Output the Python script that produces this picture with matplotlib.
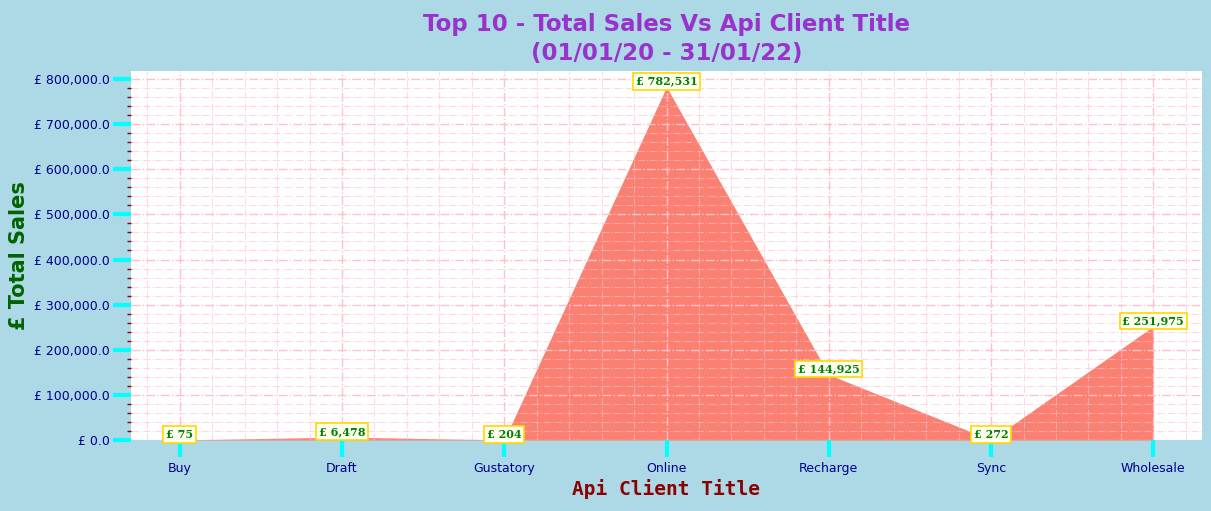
import matplotlib
matplotlib.use("Agg")
import matplotlib.pyplot as plt
from matplotlib.ticker import FuncFormatter, MultipleLocator

categories = ["Buy", "Draft", "Gustatory", "Online", "Recharge", "Sync", "Wholesale"]
sales = [75, 6478, 204, 782531, 144925, 272, 251975]

fig = plt.figure(figsize=(12.11, 5.11), dpi=100, facecolor="#add8e6")
ax = fig.add_axes([131/1211, 1-440/511, (1202-131)/1211, (440-71)/511])
ax.set_facecolor("white")

x = list(range(len(categories)))
ax.fill_between(x, sales, color="#fa8072", linewidth=0)

ax.set_xlim(-0.3, len(categories) - 0.7)
ax.set_ylim(0, max(sales) * 1.045)

ax.set_xticks(x)
ax.set_xticklabels(categories)
ax.xaxis.set_minor_locator(MultipleLocator(0.2))
ax.yaxis.set_major_locator(MultipleLocator(100000))
ax.yaxis.set_minor_locator(MultipleLocator(20000))
ax.yaxis.set_major_formatter(FuncFormatter(lambda v, p: f"£ {v:,.1f}"))

ax.tick_params(axis="both", which="major", color="cyan", width=3,
               labelcolor="#00008b", labelsize=9)
ax.tick_params(axis="x", which="major", length=12, pad=4)
ax.tick_params(axis="y", which="major", length=13, pad=2)
ax.tick_params(axis="x", which="minor", length=0)
ax.tick_params(axis="y", which="minor", color="#8b0000", length=3, width=1)

ax.grid(True, which="major", color="pink", linestyle="-.", linewidth=1)
ax.grid(True, which="minor", color="pink", linestyle="-.", linewidth=0.8, alpha=0.6)
ax.set_axisbelow(False)

for s in ax.spines.values():
    s.set_visible(False)

for xi, v in zip(x, sales):
    ax.annotate(f"£ {v:,}", (xi, v), xytext=(0, 0), textcoords="offset points",
                ha="center", va="bottom", fontsize=8, fontweight="bold",
                family="DejaVu Serif", color="green",
                bbox=dict(boxstyle="square,pad=0.25", fc="#fffff0", ec="gold", lw=1.2))

ax.set_title("Top 10 - Total Sales Vs Api Client Title\n(01/01/20 - 31/01/22)",
             color="#9932cc", fontsize=16.5, fontweight="bold", pad=8,
             linespacing=1.35)
ax.set_ylabel("£ Total Sales", color="darkgreen", fontsize=15, fontweight="bold")
ax.yaxis.set_label_coords(-0.095, 0.5)
ax.set_xlabel("Api Client Title", color="#8b0000", fontsize=14, fontweight="bold",
              family="monospace", labelpad=3)

fig.savefig("out.png", dpi=100, facecolor=fig.get_facecolor())
